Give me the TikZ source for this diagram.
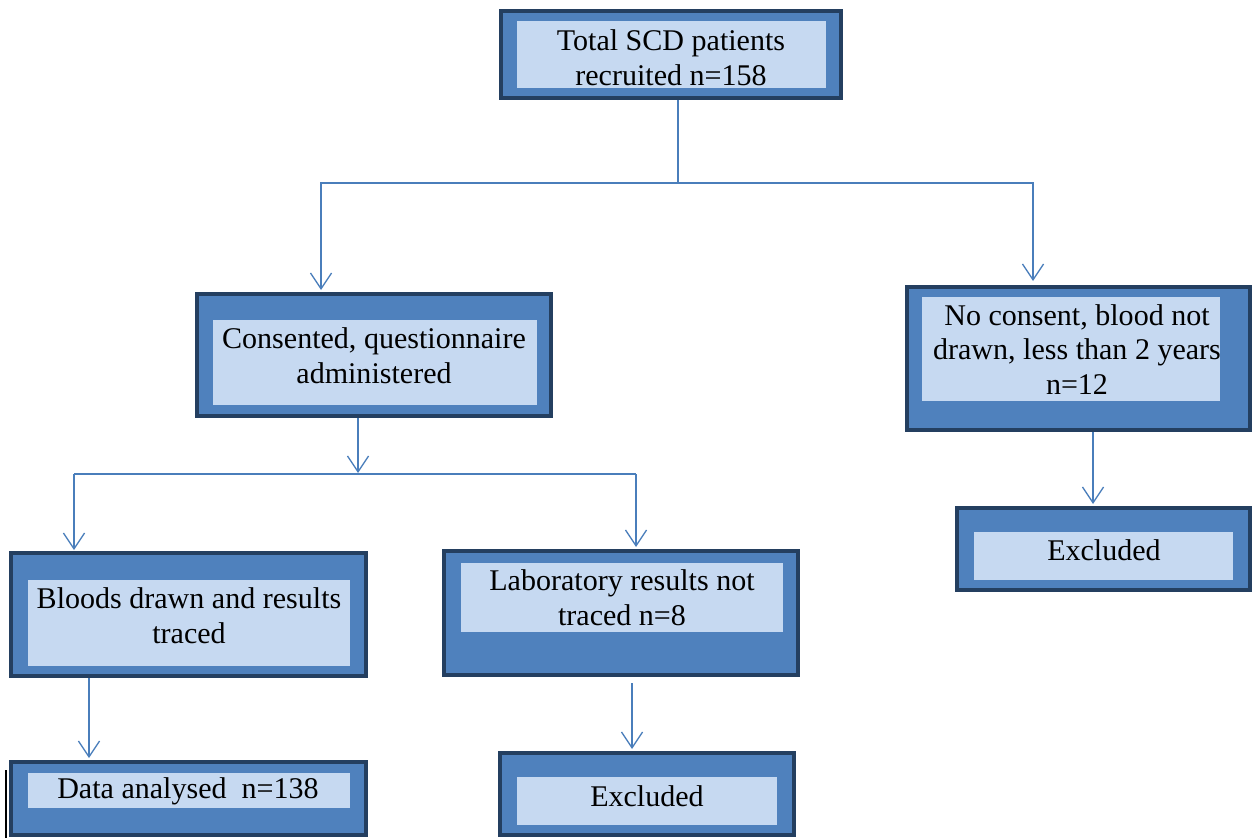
\documentclass[tikz,border=0pt]{standalone}
\usepackage{fontspec}
\setmainfont{Liberation Serif}
\usetikzlibrary{arrows.meta,calc}
\definecolor{boxline}{HTML}{243F60}
\definecolor{boxfill}{HTML}{4F81BD}
\definecolor{boxinner}{HTML}{C6D9F1}
\definecolor{arrline}{HTML}{4A7EBB}
\begin{document}
\begin{tikzpicture}[x=0.02cm,y=-0.02cm,
	outerbox/.style={draw=boxline,fill=boxfill,line width=2.3pt,inner sep=0pt},
	innerbox/.style={fill=boxinner,inner sep=0pt},
	boxtext/.style={align=center,inner sep=0pt,font=\fontsize{17.1}{19.8}\selectfont},
	link/.style={draw=arrline,line width=0.75pt},
	arr/.style={link,-{Straight Barb[length=9pt,width=12pt]}}]
			\useasboundingbox (0,0) rectangle (1259,838);
			% boxes
			\node[outerbox,minimum width=6.8cm,minimum height=1.74cm] (top) at (671,54.5) {};
			\node[innerbox,minimum width=6.18cm,minimum height=1.34cm] (topin) at (671.5,54.5) {};
			\node[boxtext] (toptx) at (671,58) {Total SCD patients\\recruited n=158};
			\node[outerbox,minimum width=7.08cm,minimum height=2.44cm] (cons) at (374,355) {};
			\node[innerbox,minimum width=6.48cm,minimum height=1.7cm] (consin) at (375,362.5) {};
			\node[boxtext] (constx) at (374,355.5) {Consented, questionnaire\\administered};
			\node[outerbox,minimum width=6.86cm,minimum height=2.86cm] (nocons) at (1078.5,358.5) {};
			\node[innerbox,minimum width=5.96cm,minimum height=2.08cm] (noconsin) at (1071,349) {};
			\node[boxtext] (noconstx) at (1077,349.5) {No consent, blood not\\drawn, less than 2 years\\n=12};
			\node[outerbox,minimum width=7.1cm,minimum height=2.46cm] (bloods) at (188.5,614.5) {};
			\node[innerbox,minimum width=6.44cm,minimum height=1.72cm] (bloodsin) at (189,623) {};
			\node[boxtext] (bloodstx) at (189,615.5) {Bloods drawn and results\\traced};
			\node[outerbox,minimum width=7.1cm,minimum height=1.46cm] (data) at (188.5,798.5) {};
			\node[innerbox,minimum width=6.44cm,minimum height=0.7cm] (datain) at (189,790.5) {};
			\node[boxtext] (datatx) at (188,791) {Data analysed\ \ n=138};
			\node[outerbox,minimum width=7.08cm,minimum height=2.48cm] (lab) at (621,613) {};
			\node[innerbox,minimum width=6.44cm,minimum height=1.38cm] (labin) at (622,597.5) {};
			\node[boxtext] (labtx) at (622,597.5) {Laboratory results not\\traced n=8};
			\node[outerbox,minimum width=5.88cm,minimum height=1.64cm] (exclm) at (647,794) {};
			\node[innerbox,minimum width=5.2cm,minimum height=0.96cm] (exclmin) at (647,801) {};
			\node[boxtext] (exclmtx) at (647,796) {Excluded};
			\node[outerbox,minimum width=5.86cm,minimum height=1.64cm] (exclr) at (1103.5,549) {};
			\node[innerbox,minimum width=5.18cm,minimum height=0.96cm] (exclrin) at (1103.5,556) {};
			\node[boxtext] (exclrtx) at (1104,550) {Excluded};
			% connectors
			\coordinate (j1) at (678,183);
			\coordinate (a1) at (321,290);
			\coordinate (a2) at (1033,281);
			\draw[link] (top.south -| j1) -- (j1);
			\draw[arr] (j1) -| (a1);
			\draw[arr] (j1) -| (a2);
			\coordinate (j2) at (358,473);
			\coordinate (j3) at (74,474);
			\coordinate (j4) at (636,474);
			\coordinate (a3) at (74,550);
			\coordinate (a4) at (636,547);
			\draw[arr] (cons.south -| j2) -- (j2);
			\draw[link] (j3) -- (j4);
			\draw[arr] (j3) -- (a3);
			\draw[arr] (j4) -- (a4);
			\coordinate (a5) at (89,758);
			\draw[arr] (bloods.south -| a5) -- (a5);
			\coordinate (a6) at (632,749);
			\draw[arr] ($(lab.south -| a6)+(0,6)$) -- (a6);
			\coordinate (a7) at (1093,504);
			\draw[arr] (nocons.south -| a7) -- (a7);
			\draw[line width=1.2pt] (6,770) -- (6,838);
		\end{tikzpicture}
\end{document}
